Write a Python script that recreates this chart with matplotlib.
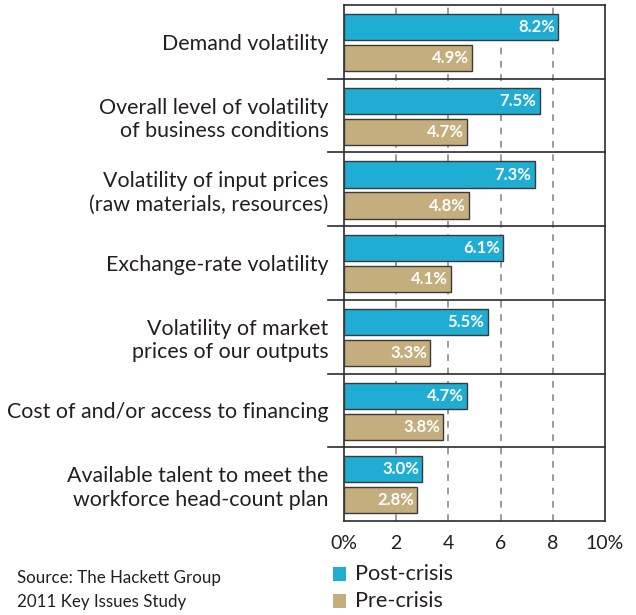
import matplotlib
matplotlib.use("Agg")
import matplotlib.pyplot as plt
from matplotlib.patches import Rectangle

categories = [
    "Demand volatility",
    "Overall level of volatility\nof business conditions",
    "Volatility of input prices\n(raw materials, resources)",
    "Exchange-rate volatility",
    "Volatility of market\nprices of our outputs",
    "Cost of and/or access to financing",
    "Available talent to meet the\nworkforce head-count plan",
]
post_crisis = [8.2, 7.5, 7.3, 6.1, 5.5, 4.7, 3.0]
pre_crisis = [4.9, 4.7, 4.8, 4.1, 3.3, 3.8, 2.8]
xticks = [0, 2, 4, 6, 8, 10]
xtick_labels = ["0%", "2", "4", "6", "8", "10%"]
series_names = ["Post-crisis", "Pre-crisis"]

POST_C = "#1FADD3"
PRE_C = "#C5AE7D"
TXT = "#231F20"
FONT = ["Lato", "DejaVu Sans"]
plt.rcParams["font.family"] = FONT

W, H = 636, 615
fig = plt.figure(figsize=(W / 100, H / 100), dpi=100)
ax_l, ax_r, ax_t, ax_b = 344, 605, 5, 521
ax = fig.add_axes([ax_l / W, 1 - ax_b / H, (ax_r - ax_l) / W, (ax_b - ax_t) / H])

n = len(categories)
ax.set_xlim(0, 10)
ax.set_ylim(n, 0)

bh = 0.355
for i in range(n):
    yp = i + 0.30
    yq = i + 0.72
    ax.barh(yp, post_crisis[i], height=bh, color=POST_C, edgecolor="#3a3a3a", linewidth=1.0, zorder=3)
    ax.barh(yq, pre_crisis[i], height=bh, color=PRE_C, edgecolor="#3a3a3a", linewidth=1.0, zorder=3)
    ax.text(post_crisis[i] - 0.12, yp, f"{post_crisis[i]:.1f}%", ha="right", va="center",
            color="white", fontsize=12, fontweight="bold", zorder=4)
    ax.text(pre_crisis[i] - 0.12, yq, f"{pre_crisis[i]:.1f}%", ha="right", va="center",
            color="white", fontsize=12, fontweight="bold", zorder=4)

# dashed gridlines
for xv in xticks[1:-1]:
    ax.axvline(xv, color="#8a8a8a", linestyle=(0, (4, 4)), linewidth=1.2, zorder=1)

# separator lines between groups (extend left of axis)
for i in range(1, n):
    ax.plot([-0.6, 10], [i, i], color="#2b2b2b", linewidth=1.2, clip_on=False, zorder=2)

for s in ax.spines.values():
    s.set_color("#2b2b2b")
    s.set_linewidth(1.2)

ax.set_yticks([i + 0.5 for i in range(n)])
ax.set_yticklabels(categories, fontsize=15.4, color=TXT, linespacing=1.22)
ax.tick_params(axis="y", length=0, pad=11)
ax.set_xticks(xticks)
ax.set_xticklabels(xtick_labels, fontsize=14, color=TXT)
ax.tick_params(axis="x", length=0, pad=10)

# legend
lx = 333
for k, (name, col) in enumerate(zip(series_names, [POST_C, PRE_C])):
    yc = 574 + k * 27
    fig.patches.append(Rectangle((lx / W, 1 - (yc + 7) / H), 13 / W, 14 / H,
                                 transform=fig.transFigure, facecolor=col, edgecolor="none"))
    fig.text(355 / W, 1 - yc / H, name, fontsize=15.6, color=TXT, va="center", ha="left")

fig.text(17 / W, 1 - 578 / H, "Source: The Hackett Group", fontsize=12.2, color=TXT, va="center")
fig.text(17 / W, 1 - 602 / H, "2011 Key Issues Study", fontsize=12.2, color=TXT, va="center")

fig.savefig("out.png", dpi=100, facecolor="white")
